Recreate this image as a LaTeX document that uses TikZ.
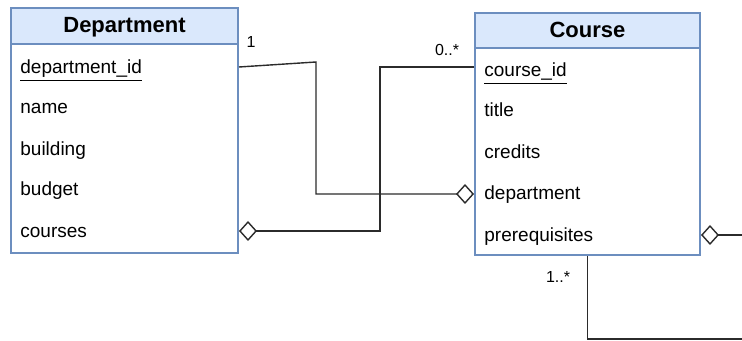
\documentclass[tikz,border=0pt]{standalone}
\usepackage{fontspec}
\setmainfont{Liberation Sans}
\usetikzlibrary{arrows.meta}
\definecolor{umlblue}{HTML}{6C8EBF}
\definecolor{umlfill}{HTML}{DAE8FC}
\definecolor{linegray}{HTML}{2B2B2B}

\begin{document}
\begin{tikzpicture}[x=0.5pt, y=-0.5pt,
	head/.style={draw=umlblue, fill=umlfill, line width=1pt, inner sep=0pt, text height=8pt, text depth=1pt, font=\fontsize{11}{13}\selectfont\bfseries},
	body/.style={draw=umlblue, fill=white, line width=1pt, inner sep=0pt},
	attr/.style={anchor=west, inner sep=0pt, text height=7pt, text depth=2pt, font=\fontsize{9.5}{11}\selectfont},
	mult/.style={inner sep=0pt, font=\fontsize{8}{10}\selectfont},
	link/.style={draw=linegray, line width=0.7pt},
	aggr/.style={-{Diamond[open, length=9pt, width=10pt]}},
	raggr/.style={{Diamond[open, length=9pt, width=10pt]}-}]
	\useasboundingbox (0,0) rectangle (742,341);
	% Department
	\node[body, minimum width=113.5pt, minimum height=104.5pt] (dbody) at (124.5,148.5) {};
	\node[head, minimum width=113.5pt, minimum height=18pt] (dhead) at (124.5,26) {Department};
	\node[attr] (did) at (20,69) {\underline{department\_id}};
	\node[attr] (dname) at (20,109) {name};
	\node[attr] (dbuilding) at (20,151) {building};
	\node[attr] (dbudget) at (20,191) {budget};
	\node[attr] (dcourses) at (20,233) {courses};
	% Course
	\node[body, minimum width=112.5pt, minimum height=103.5pt] (cbody) at (587.5,151.5) {};
	\node[head, minimum width=112.5pt, minimum height=17.5pt] (chead) at (587.5,30.5) {Course};
	\node[attr] (cid) at (484,72) {\underline{course\_id}};
	\node[attr] (ctitle) at (484,112) {title};
	\node[attr] (ccredits) at (484,154) {credits};
	\node[attr] (cdept) at (484,195) {department};
	\node[attr] (cprereq) at (484,237) {prerequisites};
	% free ends off the right edge
	\coordinate (selfa) at (742,235);
	\coordinate (selfb) at (742,339);
	% links
	\draw[link, aggr] (dbody.east |- 0,67) -- (316,62) |- (cbody.west |- 0,194);
	\draw[link, aggr] (cbody.west |- 0,67) -| (380,231) -- (dbody.east |- 0,231);
	\draw[link, raggr] (cbody.east |- selfa) -- (selfa);
	\draw[link] (cbody.south) |- (selfb);
	% multiplicities
	\node[mult] (mone) at (251,42) {1};
	\node[mult] (mmany) at (447,50) {0..*};
	\node[mult] (mprereq) at (558,277) {1..*};
\end{tikzpicture}
\end{document}
